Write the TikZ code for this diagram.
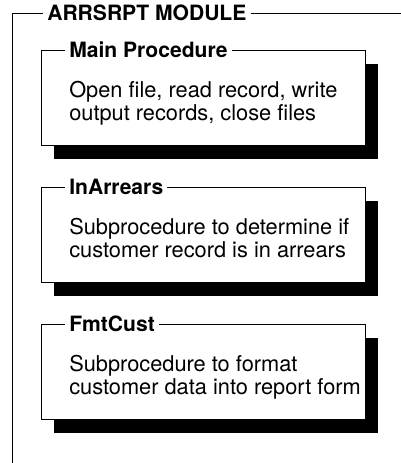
\documentclass[tikz,border=0pt]{standalone}
\usepackage{fontspec}
\setmainfont{TeX Gyre Heros}
\usetikzlibrary{shadows}

\begin{document}
\begin{tikzpicture}[
  proc/.style={draw, line width=.25mm, fill=white, anchor=north west,
    minimum width=8.1cm, minimum height=2.375cm, inner sep=0pt,
    drop shadow={shadow xshift=.3cm, shadow yshift=-.35cm, fill=black, opacity=1}},
  title/.style={fill=white, anchor=west, inner xsep=.1cm, inner ysep=0pt,
    font=\fontsize{15}{18}\selectfont\bfseries},
  body/.style={anchor=base west, align=left, inner sep=0pt,
    font=\fontsize{15.5}{16}\selectfont}]

\useasboundingbox (0,0) rectangle (10.025,11.575);

% module frame, open at right and bottom
\node[title] (module) at (1.075,11.25) {ARRSRPT MODULE};
\coordinate (framecorner) at (.3,11.25);
\coordinate (frameend) at (10.025,11.25);
\coordinate (framebottom) at (.3,0);
\draw[line width=.2mm] (module.west) -- (framecorner) -- (framebottom);
\draw[line width=.2mm] (module.east) -- (frameend);

% main procedure
\node[proc] (main) at (1.025,10.325) {};
\node[title] (mainname) at (1.625,10.325) {Main Procedure};
\node[body] (maintext) at (1.725,8.563)
    {Open file, read record, write\\output records, close files};

% subprocedures
\node[proc] (arrears) at (1.025,6.9) {};
\node[title] (arrearsname) at (1.625,6.9) {InArrears};
\node[body] (arrearstext) at (1.725,5.138)
    {Subprocedure to determine if\\customer record is in arrears};

\node[proc] (fmtcust) at (1.025,3.475) {};
\node[title] (fmtcustname) at (1.625,3.475) {FmtCust};
\node[body] (fmtcusttext) at (1.725,1.713)
    {Subprocedure to format\\customer data into report form};
%\draw[red] (main.south east) -- (fmtcust.north east);
\end{tikzpicture}
\end{document}
